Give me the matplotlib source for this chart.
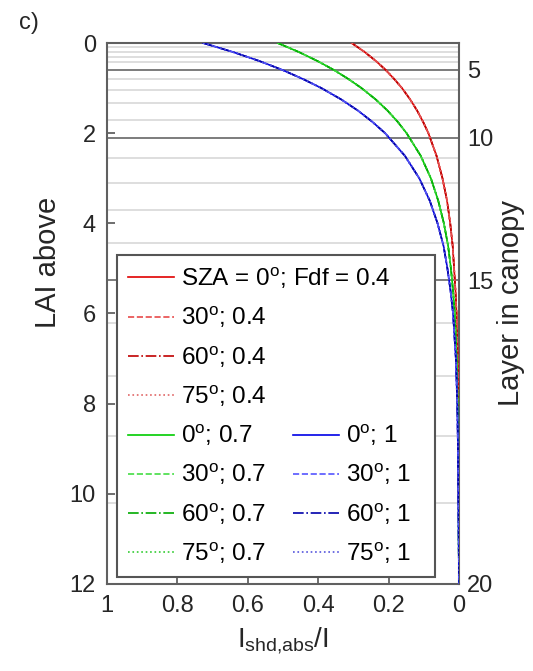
import numpy as np
import matplotlib
matplotlib.use('Agg')
import matplotlib.pyplot as plt

plt.rcParams['font.family'] = ['Liberation Sans', 'DejaVu Sans']
plt.rcParams['mathtext.default'] = 'regular'

# LAI above (depth in canopy) where curves were read
lai = [0, 0.2, 0.4, 0.6, 0.8, 1.0, 1.25, 1.5, 1.75, 2.0, 2.5, 3.0, 3.5,
       4.0, 4.5, 5.0, 5.5, 6.0, 7.0, 8.0, 9.0, 10.0, 11.0, 12.0]

# I_shd,abs / I for each diffuse fraction (SZA curves lie on top of each other)
shd_fdf04 = [0.305, 0.268, 0.236, 0.208, 0.184, 0.162, 0.139, 0.119, 0.102, 0.087,
             0.064, 0.047, 0.034, 0.025, 0.018, 0.014, 0.010, 0.007, 0.004, 0.002,
             0.001, 0.001, 0.000, 0.000]
shd_fdf07 = [0.515, 0.455, 0.402, 0.355, 0.314, 0.277, 0.237, 0.203, 0.174, 0.149,
             0.109, 0.080, 0.059, 0.043, 0.031, 0.023, 0.017, 0.012, 0.007, 0.004,
             0.002, 0.001, 0.001, 0.000]
shd_fdf10 = [0.727, 0.642, 0.567, 0.501, 0.443, 0.391, 0.335, 0.287, 0.246, 0.210,
             0.154, 0.113, 0.083, 0.061, 0.044, 0.033, 0.024, 0.017, 0.009, 0.005,
             0.003, 0.002, 0.001, 0.000]

sza = [0, 30, 60, 75]
fdf_labels = ['0.4', '0.7', '1']

# LAI at the bottom of each canopy layer (layer 0 = top)
layer_bounds = [0, 0.095, 0.20, 0.31, 0.43, 0.59, 0.79, 1.04, 1.34, 1.71, 2.10,
                2.56, 3.10, 3.70, 4.43, 5.26, 6.21, 7.38, 8.71, 10.21, 12.0]

styles = ['-', '--', '-.', ':']
colors = {'0.4': ['#e00000', '#e84a4a', '#c00000', '#e06666'],
          '0.7': ['#00cc00', '#44dd44', '#00aa00', '#33cc33'],
          '1':   ['#0000e6', '#5555ff', '#0000aa', '#5555dd']}
series = {'0.4': shd_fdf04, '0.7': shd_fdf07, '1': shd_fdf10}

fig = plt.figure(figsize=(5.33, 6.71), dpi=100)
ax = fig.add_axes([0.2008, 0.1297, 0.6604, 0.8062])

for i, b in enumerate(layer_bounds[1:-1], start=1):
    if i % 5 == 0:
        ax.axhline(b, color='#666666', lw=1.2, zorder=1)
    else:
        ax.axhline(b, color='#dedede', lw=1.4, zorder=0)

handles = {}
for f in fdf_labels:
    handles[f] = []
    for j, s in enumerate(sza):
        ln, = ax.plot(series[f], lai, ls=styles[j], color=colors[f][j], lw=1.2, zorder=3)
        if f == '0.4' and s == 0:
            lab = 'SZA = 0$^{o}$; Fdf = 0.4'
        else:
            lab = '%d$^{o}$; %s' % (s, f)
        handles[f].append((ln, lab))

ax.set_xlim(1, 0)
ax.set_ylim(12, 0)
ax.set_xticks([1, 0.8, 0.6, 0.4, 0.2, 0])
ax.set_xticklabels(['1', '0.8', '0.6', '0.4', '0.2', '0'])
ax.set_yticks(range(0, 13, 2))
ax.tick_params(axis='both', direction='in', length=6, width=1.2, labelsize=17,
               colors='#555555', labelcolor='#262626', pad=8)
ax.tick_params(axis='y', right=False)
for sp in ax.spines.values():
    sp.set_color('#606060')
    sp.set_linewidth(1.5)

ax.set_ylabel('LAI above', fontsize=21, color='#262626')
ax.yaxis.set_label_coords(-0.128, 0.595)
ax.set_xlabel('I$_{shd{,}abs}$/I', fontsize=20, color='#262626', labelpad=6)

ax2 = ax.twinx()
ax2.set_ylim(12, 0)
ax2.set_yticks([layer_bounds[5], layer_bounds[10], layer_bounds[15], layer_bounds[20]])
ax2.set_yticklabels(['5', '10', '15', '20'])
ax2.tick_params(axis='y', length=0, labelsize=17, labelcolor='#262626', pad=6)
for sp in ax2.spines.values():
    sp.set_visible(False)
ax2.set_ylabel('Layer in canopy', fontsize=21, color='#262626')
ax2.yaxis.set_label_coords(1.108, 0.52)

# legend: left column red + green in a framed box, blue in a second column
leg_kw = dict(loc='lower left', borderaxespad=0, fontsize=17.5, handlelength=1.9,
              handletextpad=0.3, labelspacing=0.58, borderpad=0.45)
col1 = handles['0.4'] + handles['0.7']
leg1 = ax.legend([h for h, _ in col1], [l for _, l in col1],
                 bbox_to_anchor=(0.028, 0.013, 0.903, 0.6), mode='expand',
                 frameon=True, fancybox=False, framealpha=1, edgecolor='#555555', **leg_kw)
leg1.get_frame().set_linewidth(1.5)
leg1.set_zorder(5)
ax.add_artist(leg1)
leg2 = ax.legend([h for h, _ in handles['1']], [l for _, l in handles['1']],
                 bbox_to_anchor=(0.497, 0.013), frameon=False, **leg_kw)
leg2.set_zorder(6)

fig.text(0.036, 0.965, 'c)', fontsize=17, color='#262626', ha='left', va='center')

fig.savefig('out.png', dpi=100)
